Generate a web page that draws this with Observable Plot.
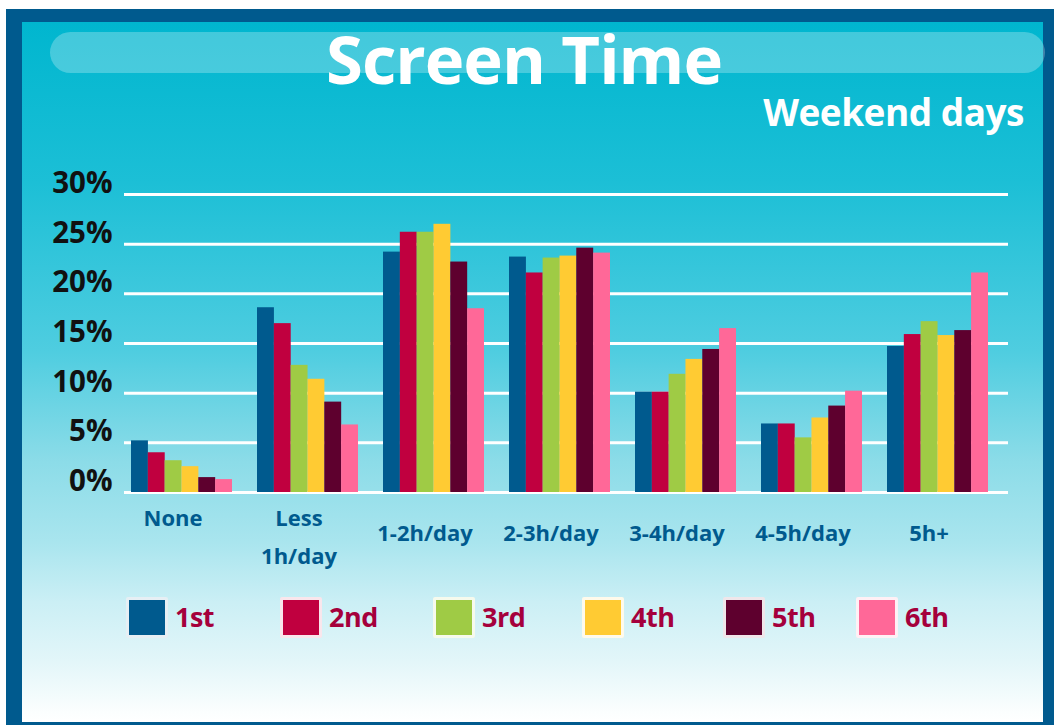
<!DOCTYPE html>
<html>
<head>
<meta charset="utf-8">
<script src="https://cdn.jsdelivr.net/npm/d3@7"></script>
<script src="https://cdn.jsdelivr.net/npm/@observablehq/plot@0.6"></script>
<style>
  html, body { margin: 0; padding: 0; background: #ffffff; }
  #page {
    position: relative; width: 1054px; height: 725px; overflow: hidden;
    font-family: "Open Sans", sans-serif;
    background: #ffffff;
  }
  #frame {
    position: absolute; left: 6px; top: 9px; width: 1048px; height: 716px;
    background: #005a8e;
  }
  #inner {
    position: absolute; left: 22px; top: 22px; width: 1021px; height: 700px;
    background: linear-gradient(to bottom, #00b6cf 0px, #1cbfd6 160px, #4fcde0 330px, #8cdce8 440px, #a9e5ee 520px, #cbeff5 580px, #e3f6f9 640px, #fbfefe 690px, #ffffff 700px);
  }
  #pill {
    position: absolute; left: 50px; top: 32px; width: 995px; height: 41px;
    border-radius: 21px; background: rgba(255,255,255,0.26);
  }
  #title {
    position: absolute; left: 0; width: 1048px; top: 25px; text-align: center;
    font-size: 67px; font-weight: 700; color: #ffffff; line-height: 1; letter-spacing: -1px;
  }
  #subtitle {
    position: absolute; right: 30px; top: 93px;
    font-size: 37px; font-weight: 700; color: #ffffff; line-height: 1; letter-spacing: -0.5px;
  }
  #chart { position: absolute; left: 0; top: 150px; }
  #legend { position: absolute; left: 126px; top: 597px; display: flex; }
  .item { display: flex; align-items: flex-start; width: 147px; }
  .item:nth-child(1) { width: 154px; }
  .item:nth-child(2) { width: 153px; }
  .item:nth-child(3) { width: 149px; }
  .item:nth-child(4) { width: 141px; }
  .item:nth-child(5) { width: 133px; }
  .sw { width: 36px; height: 35px; border: 3px solid rgba(255,255,255,0.9); border-radius: 2px; box-sizing: content-box; }
  .lab { margin-left: 7px; font-size: 27px; font-weight: 700; color: #a5003c; line-height: 1; margin-top: 6px; letter-spacing: -0.5px; }
</style>
</head>
<body>
<div id="page">
  <div id="frame"></div>
  <div id="inner"></div>
  <div id="pill"></div>
  <div id="title">Screen Time</div>
  <div id="subtitle">Weekend days</div>
  <div id="chart"></div>
  <div id="legend"></div>
</div>
<script>
// ---- data ----
const categories = ["None", "Less\n1h/day", "1-2h/day", "2-3h/day", "3-4h/day", "4-5h/day", "5h+"];
const series = ["1st", "2nd", "3rd", "4th", "5th", "6th"];
const colors = ["#005a8e", "#c0003f", "#9fcb45", "#ffcb33", "#5e002e", "#ff6898"];
const s1st = [5.2, 18.6, 24.2, 23.7, 10.1, 6.9, 14.7];
const s2nd = [4.0, 17.0, 26.2, 22.1, 10.1, 6.9, 15.9];
const s3rd = [3.2, 12.8, 26.2, 23.6, 11.9, 5.5, 17.2];
const s4th = [2.6, 11.4, 27.0, 23.8, 13.4, 7.5, 15.8];
const s5th = [1.5, 9.1, 23.2, 24.6, 14.4, 8.7, 16.3];
const s6th = [1.3, 6.8, 18.5, 24.1, 16.5, 10.2, 22.1];
const yTicks = [0, 5, 10, 15, 20, 25, 30];

const values = [s1st, s2nd, s3rd, s4th, s5th, s6th];

// ---- chart ----
const xRange = [117.5, 1000.5];
const paddingInner = 0.2, paddingOuter = 0.1;
const step = (xRange[1] - xRange[0]) / (categories.length - paddingInner + 2 * paddingOuter);
const bw = step * (1 - paddingInner);
const n = series.length;

const barMarks = series.map((s, i) =>
  Plot.barY(categories.map((c, j) => ({category: c, value: values[i][j], series: s})), {
    x: "category", y: "value", fill: colors[i],
    insetLeft: i * bw / n, insetRight: (n - 1 - i) * bw / n
  })
);

const axisFont = {fontSize: 22, fontWeight: "bold", fill: "#005a8e", tickSize: 0, dx: -9, label: null};

const chart = Plot.plot({
  width: 1054,
  height: 430,
  marginTop: 44,
  marginBottom: 88,
  marginLeft: 124,
  marginRight: 46,
  style: {background: "transparent", fontFamily: "Open Sans, sans-serif", overflow: "visible"},
  x: {domain: categories, range: xRange, paddingInner, paddingOuter, axis: null, label: null},
  y: {domain: [0, 30], axis: null, label: null},
  marks: [
    Plot.ruleY(yTicks, {stroke: "#ffffff", strokeWidth: 3}),
    ...barMarks,
    Plot.axisY(yTicks, {tickSize: 0, tickPadding: 12, tickFormat: d => d + "%", fontSize: 29.5, fontWeight: "bold", fill: "#111111", dy: -11, label: null}),
    Plot.axisX(["None"], {...axisFont, tickPadding: 18}),
    Plot.axisX(["Less\n1h/day"], {...axisFont, tickPadding: 6.5, lineHeight: 1.74}),
    Plot.axisX(categories.slice(2), {...axisFont, tickPadding: 32.4})
  ]
});
document.getElementById("chart").appendChild(chart);

// ---- legend ----
const legend = document.getElementById("legend");
series.forEach((s, i) => {
  const item = document.createElement("div");
  item.className = "item";
  const sw = document.createElement("div");
  sw.className = "sw";
  sw.style.background = colors[i];
  const lab = document.createElement("div");
  lab.className = "lab";
  lab.textContent = s;
  item.appendChild(sw);
  item.appendChild(lab);
  legend.appendChild(item);
});
</script>
</body>
</html>
